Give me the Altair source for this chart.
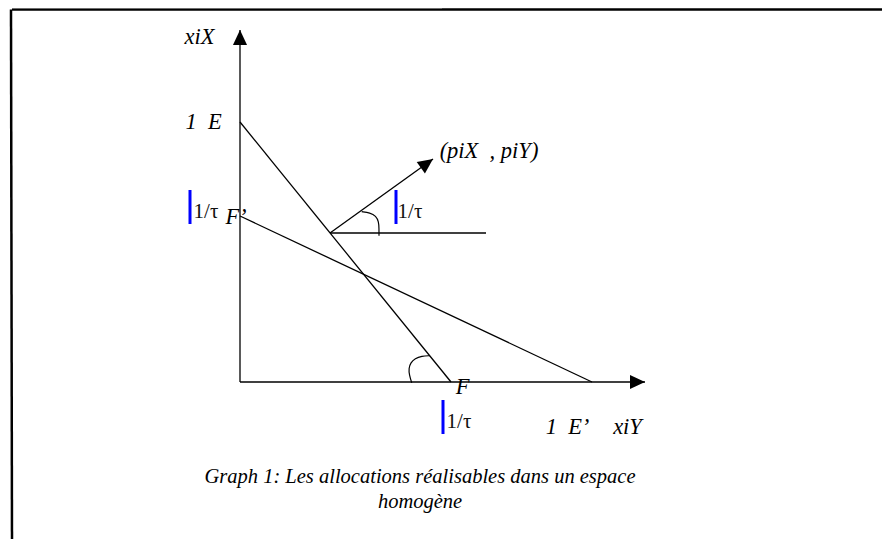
import altair as alt
import pandas as pd

# ---- diagram data (units: origin at the axes' intersection) ----
# straight segments: axes, budget lines E-F and F'-E', horizontal guide, price arrow shaft
seg_x1 = [0, 0, 0, 0, 90, 90]
seg_y1 = [0, 0, 260, 166, 149, 149]
seg_x2 = [0, 405, 211, 352, 246, 193]
seg_y2 = [352, 0, 0, 0, 149, 223]

# angle arcs
arc1_x = [121.7, 130, 136, 138.7, 139, 139]
arc1_y = [170.3, 169.3, 166, 160.3, 153.7, 146.3]
arc2_x = [190, 181.7, 175, 170.7, 168.7, 169.3, 171.7]
arc2_y = [26.3, 26, 23.7, 19.3, 13.7, 7, -0.7]

# arrow heads (tip position, direction in degrees clockwise)
head_x = [0, 405, 193]
head_y = [352, 0, 223]
head_angle = [270, 0, 324.3]

# blue markers
bar_x = [-50, 156, 203]
bar_y1 = [192, 192, -18]
bar_y2 = [158, 158, -52]

# italic labels
lab_text = ["xiX", "1\u00a0\u00a0E", "F\u2019", "(piX\u00a0\u00a0, piY)", "F", "1\u00a0\u00a0E\u2019", "xiY"]
lab_x = [-40.5, -36.5, -4, 249, 222.5, 327.5, 387.5]
lab_y = [345, 260, 165.5, 231, -4.5, -44.7, -44.7]

# upright 1/tau labels
tau_text = ["1/\u03c4", "1/\u03c4", "1/\u03c4"]
tau_x = [-34, 170, 219]
tau_y = [170, 170, -39.7]

# caption
cap_text = ["Graph 1: Les allocations r\u00e9alisables dans un espace", "homog\u00e8ne"]
cap_x = [180, 180]
cap_y = [-95, -120]

# frame
frame_x1 = [-228, -228, -229]
frame_y1 = [372.5, 374, 372.5]
frame_x2 = [650, 202, -228]
frame_y2 = [372.5, 374, -160]
frame_col = ["black", "#9a9a9a", "black"]
frame_w = [2.5, 1.2, 2.5]

XS = alt.Scale(domain=[-232, 642], zero=False, nice=False)
YS = alt.Scale(domain=[-157, 374], zero=False, nice=False)

segs = pd.DataFrame({"x": seg_x1, "y": seg_y1, "x2": seg_x2, "y2": seg_y2})
arcs = pd.DataFrame({
    "x": arc1_x + arc2_x,
    "y": arc1_y + arc2_y,
    "arc": ["a"] * len(arc1_x) + ["b"] * len(arc2_x),
    "o": list(range(len(arc1_x))) + list(range(len(arc2_x))),
})
heads = pd.DataFrame({"x": head_x, "y": head_y, "a": head_angle})
bars = pd.DataFrame({"x": bar_x, "y": bar_y1, "y2": bar_y2})
labs = pd.DataFrame({"t": lab_text, "x": lab_x, "y": lab_y})
taus = pd.DataFrame({"t": tau_text, "x": tau_x, "y": tau_y})
caps = pd.DataFrame({"t": cap_text, "x": cap_x, "y": cap_y})
frame = pd.DataFrame({"x": frame_x1, "y": frame_y1, "x2": frame_x2, "y2": frame_y2,
                      "c": frame_col, "w": frame_w})

X = lambda f: alt.X(f, type="quantitative", scale=XS, axis=None)
Y = lambda f: alt.Y(f, type="quantitative", scale=YS, axis=None)

frame_layer = alt.Chart(frame).mark_rule(strokeCap="butt").encode(
    x=X("x"), y=Y("y"), x2="x2", y2="y2",
    color=alt.Color("c:N", scale=None), strokeWidth=alt.StrokeWidth("w:Q", scale=None))

seg_layer = alt.Chart(segs).mark_rule(color="black", strokeWidth=1.3).encode(
    x=X("x"), y=Y("y"), x2="x2", y2="y2")

arc_layer = alt.Chart(arcs).mark_line(color="black", strokeWidth=1.2, interpolate="basis").encode(
    x=X("x"), y=Y("y"), detail="arc:N", order="o:Q")

head_layer = alt.Chart(heads).mark_point(
    shape="M0,0L-1,-0.47L-1,0.47Z", filled=True, color="black", opacity=1, size=900
).encode(x=X("x"), y=Y("y"), angle=alt.Angle("a:Q", scale=None))

bar_layer = alt.Chart(bars).mark_rule(color="#0000ff", strokeWidth=3).encode(
    x=X("x"), y=Y("y"), y2="y2")

lab_layer = alt.Chart(labs).mark_text(
    font="Liberation Serif", fontStyle="italic", fontSize=22.5, color="black",
    align="center", baseline="middle").encode(x=X("x"), y=Y("y"), text="t:N")

tau_layer = alt.Chart(taus).mark_text(
    font="Liberation Serif", fontSize=21, color="#111111",
    align="center", baseline="middle").encode(x=X("x"), y=Y("y"), text="t:N")

cap_layer = alt.Chart(caps).mark_text(
    font="Liberation Serif", fontStyle="italic", fontSize=20.5, color="black",
    align="center", baseline="middle").encode(x=X("x"), y=Y("y"), text="t:N")

chart = alt.layer(
    frame_layer, seg_layer, arc_layer, head_layer, bar_layer, lab_layer, tau_layer, cap_layer
).properties(
    width=874, height=531, padding=0, autosize=alt.AutoSizeParams(type="none"),
    background="white"
).configure_view(stroke=None)

chart.save("out.html", embed_options={"renderer": "svg", "actions": False})
